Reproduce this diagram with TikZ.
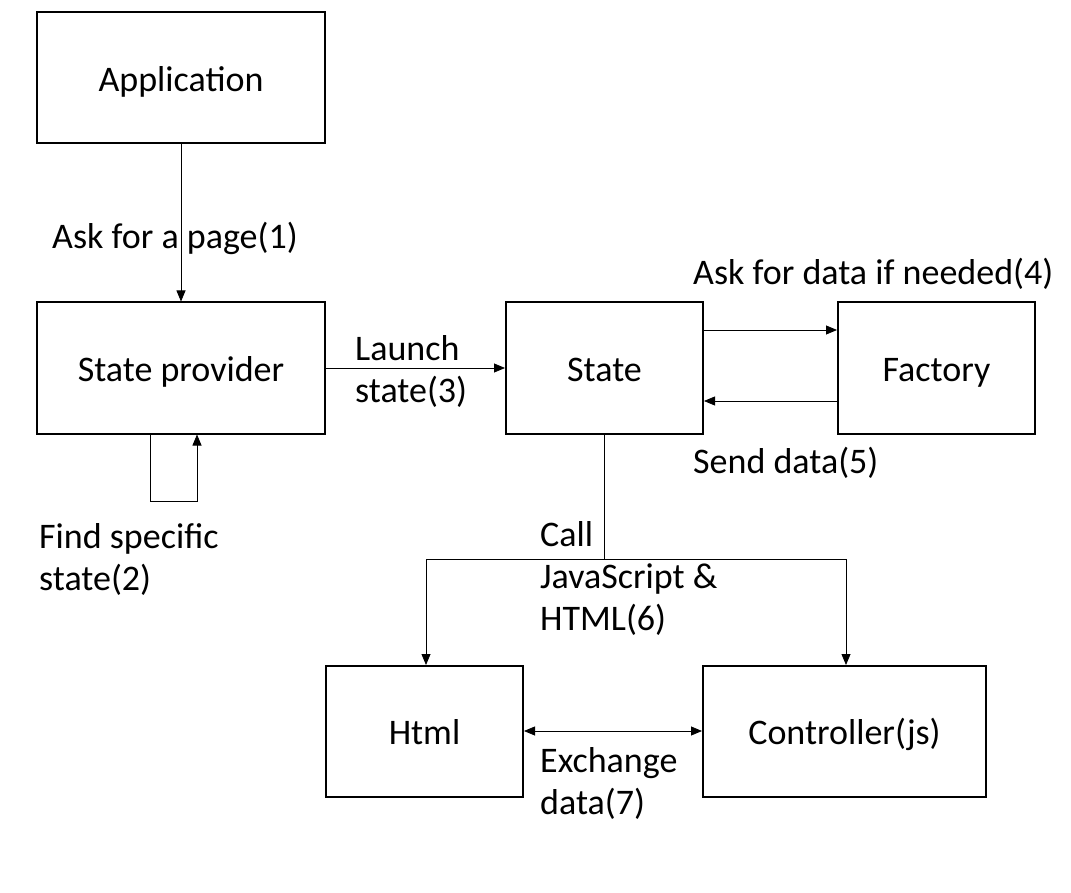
\documentclass[tikz,border=0pt]{standalone}
\usepackage{fontspec}
\setmainfont{Carlito}
\usetikzlibrary{arrows.meta}
\begin{document}
\begin{tikzpicture}[x=1pt,y=-1pt,
  box/.style={draw,line width=2pt,minimum width=#1,minimum height=131pt,inner sep=0pt,text height=33pt,text depth=6pt,font=\fontsize{36}{42}\selectfont},
  box/.default=288pt,
  lbl/.style={inner sep=0pt,align=left,font=\fontsize{36}{42}\selectfont},
  con/.style={line width=0.8pt,-{Triangle[length=11pt,width=9pt]}}]
\useasboundingbox (0,0) rectangle (1071,893);
\node[box=288pt] (app) at (181,78) {Application};
\node[box=288pt] (sp) at (181,368) {State provider};
\node[box=197pt] (st) at (604.5,368) {State};
\node[box=197pt] (fa) at (936.5,368) {Factory};
\node[box=197pt] (html) at (424.5,731) {Html};
\node[box=283pt] (ctl) at (844.5,731) {Controller(js)};
% connectors
\draw[con] (app.south) -- (sp.north);
\draw[con] (sp.east) -- (st.west);
\coordinate (l1) at (150,501);
\coordinate (l2) at (197,501);
\draw[con] (sp.south -| l1) -- (l1) -- (l2) -- (sp.south -| l2);
\coordinate (sf1) at (703,330);
\coordinate (sf2) at (703,401);
\draw[con] (st.east |- sf1) -- (fa.west |- sf1);
\draw[con] (fa.west |- sf2) -- (st.east |- sf2);
\coordinate (br) at (604.5,559);
\draw[line width=0.8pt] (st.south) -- (br);
\draw[con] (br) -| (426,665);
\draw[con] (br) -| (846,665);
\draw[line width=0.8pt,{Triangle[length=11pt,width=9pt]}-{Triangle[length=11pt,width=9pt]}] (html.east) -- (ctl.west);
% labels
\node[lbl,anchor=west] (t1) at (52,238) {Ask for a page(1)};
\node[lbl,anchor=west] (t2) at (39,559) {Find specific\\state(2)};
\node[lbl,anchor=west] (t3) at (355,371) {Launch\\state(3)};
\node[lbl,anchor=west] (t4) at (693,274) {Ask for data if needed(4)};
\node[lbl,anchor=west] (t5) at (693,463) {Send data(5)};
\node[lbl,anchor=west] (t6) at (540,578) {Call\\JavaScript \&\\HTML(6)};
\node[lbl,anchor=west] (t7) at (540,783) {Exchange\\data(7)};
\end{tikzpicture}
\end{document}
